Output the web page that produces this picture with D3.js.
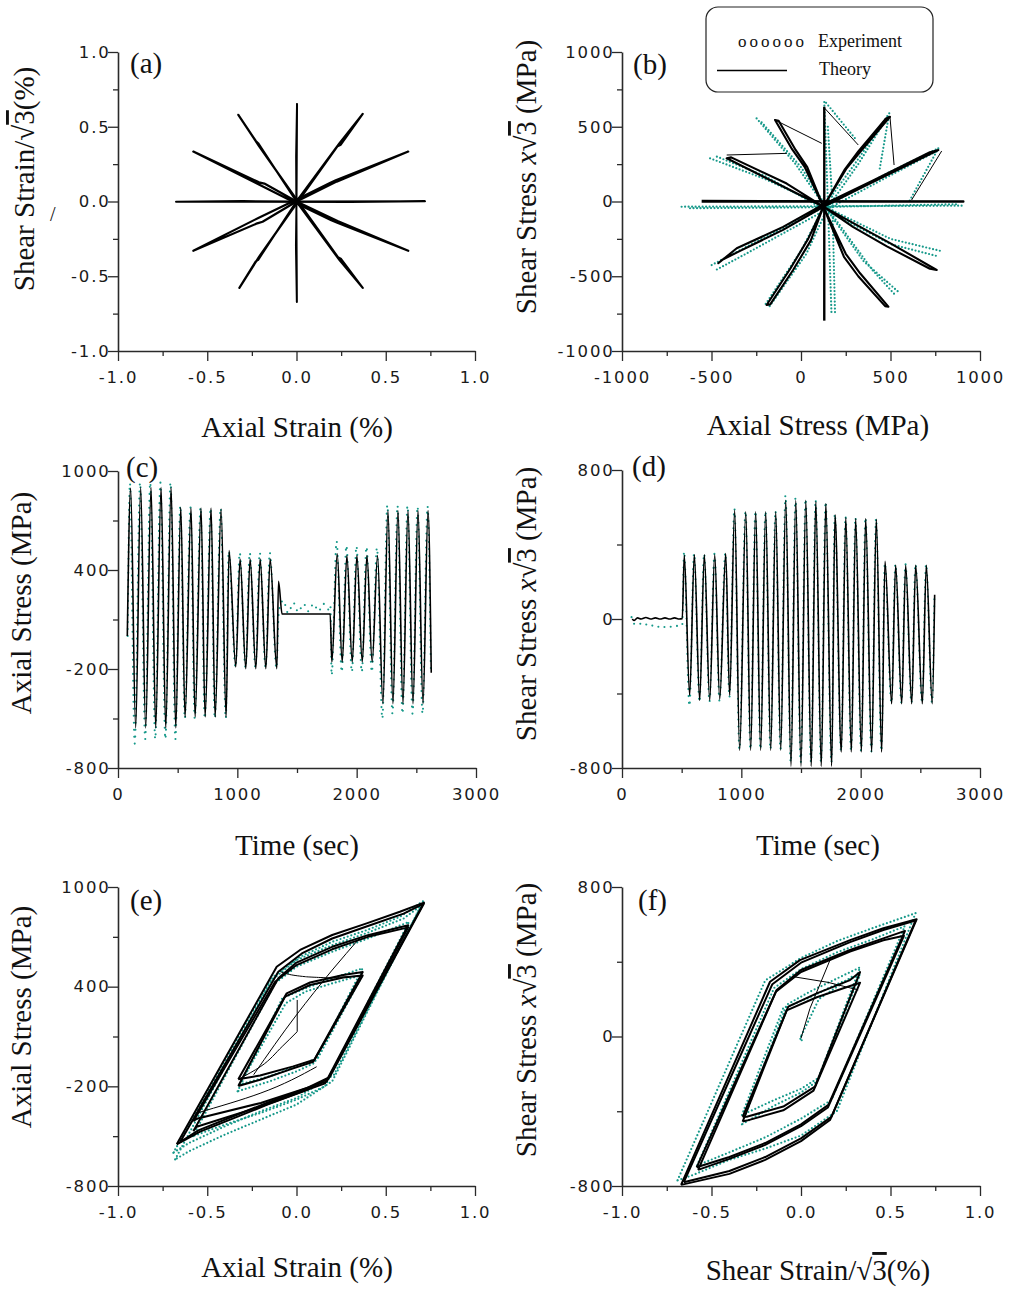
<!DOCTYPE html>
<html><head><meta charset="utf-8">
<script src="https://cdn.jsdelivr.net/npm/d3@7"></script>
<style>body{margin:0;background:#fff}svg{display:block}</style>
</head><body>
<script>
// ---------------- DATA ----------------
// (a) strain path: axial strain (%) vs shear strain/sqrt3 (%)
const aHoriz = [[0,0],[0.72,0.002],[0.3,-0.003],[-0.675,-0.002],[-0.3,0.003],[0,0]];
const aVert  = [[0,0],[0.003,0.653],[-0.002,0.3],[0.002,-0.672],[-0.003,-0.3],[0,0]];
const aSpokeB = [[0,0],[0.225,0.133],[0.626,0.334],[0.22,0.142],[0.19,0.125],[-0.005,0.01],[-0.214,-0.11],[-0.578,-0.33],[-0.22,-0.146],[-0.19,-0.135],[0,0]];
const aSpokeF = [[0,0],[0.23,-0.13],[0.626,-0.33],[0.225,-0.14],[0.195,-0.126],[-0.005,-0.01],[-0.205,0.11],[-0.578,0.334],[-0.21,0.128],[-0.18,0.12],[0,0]];
const aSpokeC = [[0,0],[0.241,0.39],[0.371,0.586],[0.248,0.38],[0.23,0.37],[0.008,0],[-0.21,-0.37],[-0.32,-0.578],[-0.228,-0.4],[-0.215,-0.39],[0,0]];
const aSpokeE = [[0,0],[0.241,-0.392],[0.371,-0.578],[0.25,-0.385],[0.232,-0.372],[0.008,0],[-0.21,0.37],[-0.326,0.58],[-0.228,0.405],[-0.215,0.39],[0,0]];

// (b) stress path: axial stress vs shear stress*sqrt3 (MPa)
const bTheoryA = [[-555,0],[907,0],[-555,3]];
const bTheoryD = [[130,634],[130,-797]];
const bTheoryB = [[125,-35],[350,100],[767,344],[720,330],[400,140],[125,-20],[-100,-170],[-359,-313],[-462,-413],[-440,-390],[-340,-330],[-100,-190],[125,-35]];
const bTheoryC = [[125,-35],[255,222],[330,330],[497,567],[475,555],[320,335],[245,215],[125,-35],[40,-250],[-60,-450],[-192,-692],[-172,-688],[-45,-460],[55,-260],[125,-35]];
const bTheoryE = [[125,-35],[20,232],[-50,350],[-145,545],[-125,540],[-30,345],[35,230],[125,-35],[250,-350],[330,-480],[488,-703],[470,-700],[320,-500],[240,-370],[125,-35]];
const bTheoryF = [[125,-35],[-100,100],[-415,289],[-390,295],[-80,120],[125,-35],[300,-150],[500,-280],[758,-458],[720,-450],[480,-300],[290,-170],[125,-35]];
const bTheoryLinks = [[[-145,545],[116,389]],[[133,623],[320,378]],[[497,567],[520,244]],[[786,338],[618,10]],[[-415,311],[-80,322]]];
const bExp = [
  [[-667,-35],[0,-32],[907,-28]],
  [[-620,-45],[0,-40],[880,-18]],
  [[130,665],[150,0],[170,-740]],
  [[150,500],[175,0],[190,-740]],
  [[-499,-425],[-300,-300],[125,-40],[500,200],[767,355]],
  [[-470,-455],[-300,-345],[125,-65],[500,175],[755,335]],
  [[-508,289],[-200,150],[125,-30],[500,-250],[777,-330]],
  [[-470,300],[-200,170],[125,-50],[500,-285],[760,-365]],
  [[-197,-685],[0,-330],[130,-30],[300,250],[493,590]],
  [[-175,-700],[30,-350],[150,-40],[320,250],[480,560]],
  [[-248,556],[-30,250],[130,-30],[350,-400],[553,-614]],
  [[-220,530],[0,230],[150,-50],[400,-460],[530,-630]],
  [[767,355],[606,3]],[[140,660],[310,410]],[[493,590],[440,220]]
];

// (c) time (s) vs axial stress (MPa)
const cTheory = [[78,0],[106,895],[148,-557],[190,900],[232,-557],[277,900],[316,-557],[361,900],[400,-557],[445,900],[484,-557],[526,780],[562,-491],[612,775],[646,-491],[696,775],[730,-491],[780,775],[814,-491],[864,770],[906,-491],[931,518],[987,-188],[1023,467],[1071,-198],[1107,467],[1155,-198],[1191,467],[1239,-198],[1275,467],[1331,-198],[1345,332],[1375,133],[1778,133],[1792,-158],[1837,498],[1879,-158],[1918,488],[1963,-158],[2002,488],[2047,-158],[2086,488],[2130,-158],[2175,488],[2220,-410],[2262,760],[2304,-410],[2346,760],[2388,-410],[2430,760],[2472,-410],[2514,760],[2556,-410],[2598,760],[2625,-223]];
const cExp = [[81,0],[100,925],[140,-652],[185,930],[228,-625],[270,930],[312,-625],[355,930],[397,-625],[440,930],[481,-625],[522,790],[560,-500],[607,780],[643,-500],[692,780],[727,-500],[776,775],[811,-500],[860,775],[903,-500],[928,514],[985,-190],[1020,505],[1069,-195],[1104,505],[1152,-195],[1188,505],[1237,-195],[1272,505],[1328,-195],[1348,150],[1385,215],[1425,140],[1471,200],[1510,145],[1555,195],[1595,150],[1639,195],[1680,150],[1722,195],[1765,160],[1780,185],[1790,-238],[1832,574],[1875,-218],[1914,548],[1960,-218],[1998,545],[2043,-218],[2082,540],[2127,-218],[2170,535],[2215,-501],[2257,794],[2300,-471],[2342,790],[2384,-471],[2426,790],[2468,-471],[2510,785],[2552,-471],[2594,785],[2622,-220]];

// (d) time (s) vs shear stress*sqrt3 (MPa)
const dTheory = [[86,0],[100,-8],[130,6],[160,0],[200,8],[240,0],[280,6],[320,0],[360,6],[400,0],[440,6],[480,0],[505,2],[522,342],[567,-410],[606,345],[651,-437],[690,345],[735,-437],[777,345],[819,-430],[869,351],[902,-410],[944,584],[986,-705],[1037,576],[1078,-705],[1120,576],[1162,-705],[1204,576],[1246,-705],[1288,576],[1330,-705],[1372,637],[1416,-790],[1456,637],[1500,-790],[1540,637],[1586,-790],[1624,630],[1670,-790],[1708,620],[1757,-790],[1785,560],[1838,-714],[1875,545],[1922,-714],[1958,539],[2006,-714],[2042,539],[2092,-714],[2131,535],[2176,-714],[2204,310],[2260,-455],[2293,288],[2344,-455],[2377,288],[2428,-455],[2461,288],[2517,-455],[2550,288],[2600,-455],[2620,130]];
const dExp = [[80,10],[95,-20],[120,-32],[150,-25],[180,-38],[210,-28],[240,-40],[270,-30],[300,-42],[330,-32],[360,-44],[390,-35],[420,-45],[450,-35],[480,-42],[505,-30],[520,363],[565,-467],[604,352],[649,-445],[688,350],[733,-445],[775,350],[817,-440],[866,355],[900,-420],[942,593],[984,-700],[1035,580],[1076,-700],[1118,580],[1160,-700],[1202,580],[1244,-700],[1286,580],[1328,-700],[1370,664],[1414,-770],[1454,650],[1498,-770],[1538,645],[1584,-770],[1622,640],[1668,-770],[1706,630],[1755,-770],[1783,565],[1836,-710],[1873,550],[1920,-710],[1956,545],[2004,-710],[2040,545],[2090,-710],[2129,540],[2174,-710],[2202,300],[2258,-450],[2291,295],[2342,-450],[2375,295],[2426,-450],[2459,295],[2515,-450],[2548,295],[2598,-450],[2618,140]];

// (e) axial strain (%) vs axial stress (MPa)
const eLoopA1 = [[-0.671,-549],[-0.111,520],[0.02,621],[0.2,711],[0.393,781],[0.579,851],[0.714,906],[0.178,-152],[0.057,-222],[-0.167,-312],[-0.354,-393],[-0.54,-473],[-0.671,-549]];
const eLoopA2 = [[-0.652,-535],[-0.102,490],[0.03,600],[0.2,690],[0.4,765],[0.6,840],[0.714,900],[0.185,-145],[0.06,-210],[-0.167,-300],[-0.354,-380],[-0.55,-465],[-0.652,-535]];
const eLoopB = [[-0.578,-470],[-0.102,450],[0.0,545],[0.2,640],[0.4,710],[0.626,770],[0.16,-182],[-0.204,-323],[-0.559,-443],[-0.578,-470]];
const eLoopF = [[-0.578,-410],[-0.12,430],[0.0,530],[0.2,625],[0.4,700],[0.626,757],[0.17,-170],[-0.2,-300],[-0.559,-395],[-0.578,-410]];
const eLoopC = [[-0.326,-198],[-0.064,340],[0.076,410],[0.262,455],[0.371,467],[0.094,-52],[-0.018,-92],[-0.204,-160],[-0.326,-198]];
const eLoopE = [[-0.326,-158],[-0.055,360],[0.076,425],[0.262,470],[0.371,488],[0.1,-40],[-0.018,-80],[-0.204,-135],[-0.326,-158]];
const eLinks = [[[0.004,320],[0.004,129]],[[0.004,129],[-0.08,40],[-0.2,-80],[-0.326,-158]],[[0.113,-82],[-0.204,-242],[-0.559,-361]],[[-0.24,-130],[0.0,230],[0.2,500],[0.36,700]],[[-0.09,490],[0.05,460],[0.2,450],[0.37,465]]];
const eExp = [
  [[-0.68,-640],[-0.13,460],[0.02,580],[0.2,670],[0.393,740],[0.579,820],[0.71,915],[0.2,-170],[0.0,-310],[-0.2,-400],[-0.4,-490],[-0.6,-590],[-0.68,-640]],
  [[-0.69,-600],[-0.15,430],[0.0,560],[0.2,650],[0.4,725],[0.6,810],[0.7,890],[0.21,-130],[0.0,-270],[-0.2,-350],[-0.4,-440],[-0.6,-540],[-0.69,-600]],
  [[-0.58,-500],[-0.12,420],[0.0,520],[0.2,610],[0.4,690],[0.63,790],[0.16,-200],[0.0,-280],[-0.2,-360],[-0.4,-430],[-0.58,-500]],
  [[-0.33,-230],[-0.08,330],[0.05,390],[0.2,450],[0.37,510],[0.1,-60],[0.0,-110],[-0.15,-170],[-0.33,-230]],
  [[-0.32,-190],[-0.06,300],[0.05,370],[0.2,420],[0.37,470],[0.12,-30],[0.0,-80],[-0.15,-140],[-0.32,-190]]
];

// (f) shear strain/sqrt3 (%) vs shear stress*sqrt3 (MPa)
const fLoopD1 = [[-0.67,-794],[-0.173,293],[-0.006,409],[0.274,516],[0.46,579],[0.646,627],[0.162,-447],[0.0,-560],[-0.2,-660],[-0.4,-735],[-0.67,-794]];
const fLoopD2 = [[-0.655,-780],[-0.16,280],[0.0,395],[0.274,505],[0.46,570],[0.64,620],[0.17,-430],[0.0,-545],[-0.2,-645],[-0.4,-720],[-0.655,-780]];
const fLoopC = [[-0.583,-700],[-0.136,249],[0.0,356],[0.274,463],[0.46,525],[0.581,565],[0.153,-366],[0.0,-470],[-0.2,-570],[-0.4,-645],[-0.583,-700]];
const fLoopE = [[-0.575,-714],[-0.14,240],[0.0,345],[0.274,455],[0.46,515],[0.575,539],[0.15,-380],[0.0,-480],[-0.2,-580],[-0.4,-655],[-0.575,-714]];
const fLoopB = [[-0.326,-430],[-0.071,160],[0.088,231],[0.274,302],[0.33,345],[0.078,-268],[-0.099,-375],[-0.303,-429],[-0.326,-430]];
const fLoopF = [[-0.326,-455],[-0.08,140],[0.088,210],[0.274,270],[0.33,288],[0.07,-290],[-0.099,-395],[-0.303,-450],[-0.326,-455]];
const fLinks = [[[0,-9],[0.05,150],[0.162,409]],[[-0.043,320],[0.15,290],[0.32,249]]];
const fExp = [
  [[-0.69,-770],[-0.2,300],[0.0,420],[0.2,510],[0.4,580],[0.64,660],[0.2,-400],[0.0,-530],[-0.2,-600],[-0.4,-660],[-0.6,-740],[-0.69,-770]],
  [[-0.58,-690],[-0.15,260],[0.0,360],[0.2,450],[0.4,520],[0.58,590],[0.17,-340],[0.0,-440],[-0.2,-540],[-0.4,-620],[-0.58,-690]],
  [[-0.33,-470],[-0.08,170],[0.05,240],[0.2,310],[0.33,370],[0.09,-240],[0.0,-300],[-0.15,-370],[-0.33,-470]],
  [[-0.33,-420],[-0.1,150],[0.05,210],[0.2,280],[0.33,330],[0.1,-220],[0.0,-280],[-0.15,-340],[-0.33,-420]],
  [[0,0],[0.005,-25],[-0.005,-10],[0.1,200],[0.3,330]]
];

// ticks
const strainMajor = [-1,-0.5,0,0.5,1], strainMinor = [-0.75,-0.25,0.25,0.75];
const stressMajor = [-1000,-500,0,500,1000], stressMinor = [-750,-250,250,750];
const timeMajor = [0,1000,2000,3000], timeMinor = [500,1500,2500];
const axialMajor = [-800,-200,400,1000], axialMinor = [-500,100,700];
const shearMajor = [-800,0,800], shearMinor = [-400,400];

// ---------------- DRAW ----------------
const TEAL = "#16998a";
const svg = d3.select("body").append("svg").attr("width",1010).attr("height",1289);

function panel(p){
  const x = d3.scaleLinear().domain(p.xd).range([p.x0,p.x1]);
  const y = d3.scaleLinear().domain(p.yd).range([p.yb,p.yt]);
  const g = svg.append("g");
  const styleAxis = s => {
    s.select(".domain").attr("stroke","#2a2a2a").attr("stroke-width",1.6);
    s.selectAll(".tick line").attr("stroke","#2a2a2a").attr("stroke-width",1.3);
    s.selectAll("text").attr("font-family","DejaVu Sans, Verdana, sans-serif").attr("font-size",16.5).attr("letter-spacing","1.8px").attr("fill","#1a1a1a");
  };
  g.append("g").attr("transform",`translate(0,${p.yb})`)
    .call(d3.axisBottom(x).tickValues(p.xMinor).tickSize(5).tickSizeOuter(0).tickFormat(""))
    .call(s=>s.select(".domain").remove()).call(styleAxis);
  g.append("g").attr("transform",`translate(${p.x0},0)`)
    .call(d3.axisLeft(y).tickValues(p.yMinor).tickSize(5).tickSizeOuter(0).tickFormat(""))
    .call(s=>s.select(".domain").remove()).call(styleAxis);
  g.append("g").attr("transform",`translate(0,${p.yb})`)
    .call(d3.axisBottom(x).tickValues(p.xMajor).tickSize(10).tickSizeOuter(0).tickPadding(10.5).tickFormat(p.xf))
    .call(styleAxis);
  g.append("g").attr("transform",`translate(${p.x0},0)`)
    .call(d3.axisLeft(y).tickValues(p.yMajor).tickSize(10).tickSizeOuter(0).tickPadding(-2.5).tickFormat(p.yf))
    .call(styleAxis);
  return {g,x,y};
}
const serif = "Liberation Serif, Times New Roman, serif";
function label(txt,x,y,size){
  svg.append("text").attr("x",x).attr("y",y).attr("font-family",serif).attr("font-size",size||29).attr("fill","#111").text(txt);
}
function xTitle(parts,cx,by){
  const t = svg.append("text").attr("x",cx).attr("y",by).attr("text-anchor","middle").attr("font-family",serif).attr("font-size",29).attr("fill","#111");
  parts.forEach(pt=>{const s=t.append("tspan").text(pt.t); if(pt.i) s.attr("font-style","italic"); if(pt.o) s.attr("text-decoration","overline");});
}
function yTitle(parts,bx,cy){
  const t = svg.append("text").attr("transform",`translate(${bx},${cy}) rotate(-90)`).attr("text-anchor","middle").attr("font-family",serif).attr("font-size",29).attr("fill","#111");
  parts.forEach(pt=>{const s=t.append("tspan").text(pt.t); if(pt.i) s.attr("font-style","italic"); if(pt.o) s.attr("text-decoration","overline");});
}
const f1 = d=>d.toFixed(1).replace("\u2212","-");
const f0 = d=>String(d);

function drawLine(P,data,opts){
  const ln = d3.line().x(d=>P.x(d[0])).y(d=>P.y(d[1])).curve(opts.curve||d3.curveLinear);
  const path = P.g.append("path").attr("d",ln(data)).attr("fill","none");
  if(opts.exp){
    path.attr("stroke",TEAL).attr("stroke-width",opts.w||2.6).attr("stroke-linecap","round").attr("stroke-dasharray",opts.dash||"0 4.5");
  } else {
    path.attr("stroke","#000").attr("stroke-width",opts.w||1.8).attr("stroke-linejoin","round");
  }
}

// panel a
const A = panel({x0:118,x1:475,yt:52,yb:351,xd:[-1,1],yd:[-1,1],xMajor:strainMajor,xMinor:strainMinor,yMajor:strainMajor,yMinor:strainMinor,xf:f1,yf:f1});
[aHoriz,aVert].forEach(d=>drawLine(A,d,{w:2}));
[aSpokeB,aSpokeF,aSpokeC,aSpokeE].forEach(d=>drawLine(A,d,{w:2.2}));

// panel b
const B = panel({x0:622,x1:980,yt:52,yb:351,xd:[-1000,1000],yd:[-1000,1000],xMajor:stressMajor,xMinor:stressMinor,yMajor:stressMajor,yMinor:stressMinor,xf:f0,yf:f0});
bExp.forEach(d=>drawLine(B,d,{exp:true,w:2.2,dash:"0 3.5"}));
[bTheoryA,bTheoryD].forEach(d=>drawLine(B,d,{w:2.4}));
[bTheoryB,bTheoryC,bTheoryE,bTheoryF].forEach(d=>drawLine(B,d,{w:2.1}));
bTheoryLinks.forEach(d=>drawLine(B,d,{w:1}));

// panel c
const C = panel({x0:118,x1:476,yt:471,yb:768,xd:[0,3000],yd:[-800,1000],xMajor:timeMajor,xMinor:timeMinor,yMajor:axialMajor,yMinor:axialMinor,xf:f0,yf:f0});
drawLine(C,cExp,{exp:true,w:2.1,dash:"0 7",curve:d3.curveMonotoneX});
drawLine(C,cTheory,{w:1.6,curve:d3.curveMonotoneX});

// panel d
const D = panel({x0:622,x1:980,yt:470,yb:768,xd:[0,3000],yd:[-800,800],xMajor:timeMajor,xMinor:timeMinor,yMajor:shearMajor,yMinor:shearMinor,xf:f0,yf:f0});
drawLine(D,dExp,{exp:true,w:2.1,dash:"0 7",curve:d3.curveMonotoneX});
drawLine(D,dTheory,{w:1.6,curve:d3.curveMonotoneX});

// panel e
const E = panel({x0:118,x1:475,yt:887,yb:1186,xd:[-1,1],yd:[-800,1000],xMajor:strainMajor,xMinor:strainMinor,yMajor:axialMajor,yMinor:axialMinor,xf:f1,yf:f0});
eExp.forEach(d=>drawLine(E,d,{exp:true,w:2.2,dash:"0 3.8"}));
[eLoopA1,eLoopA2,eLoopB,eLoopF,eLoopC,eLoopE].forEach(d=>drawLine(E,d,{w:2}));
eLinks.forEach(d=>drawLine(E,d,{w:1,curve:d3.curveMonotoneY}));

// panel f
const F = panel({x0:622,x1:980,yt:887,yb:1186,xd:[-1,1],yd:[-800,800],xMajor:strainMajor,xMinor:strainMinor,yMajor:shearMajor,yMinor:shearMinor,xf:f1,yf:f0});
fExp.forEach(d=>drawLine(F,d,{exp:true,w:2.2,dash:"0 3.8"}));
[fLoopD1,fLoopD2,fLoopC,fLoopE,fLoopB,fLoopF].forEach(d=>drawLine(F,d,{w:2}));
fLinks.forEach(d=>drawLine(F,d,{w:1}));

// titles
xTitle([{t:"Axial Strain (%)"}],297,437);
xTitle([{t:"Axial Stress (MPa)"}],818,435);
xTitle([{t:"Time (sec)"}],297,855);
xTitle([{t:"Time (sec)"}],818,855);
xTitle([{t:"Axial Strain (%)"}],297,1277);
xTitle([{t:"Shear Strain/\u221A"},{t:"3",o:true},{t:"(%)"}],818,1280);
yTitle([{t:"Shear Strain/\u221A"},{t:"3",o:true},{t:"(%)"}],34,179);
yTitle([{t:"Shear Stress "},{t:"x",i:true},{t:"\u221A"},{t:"3",o:true},{t:" (MPa)"}],536,177);
yTitle([{t:"Axial Stress (MPa)"}],31,603);
yTitle([{t:"Shear Stress "},{t:"x",i:true},{t:"\u221A"},{t:"3",o:true},{t:" (MPa)"}],536,604);
yTitle([{t:"Axial Stress (MPa)"}],31,1017);
yTitle([{t:"Shear Stress "},{t:"x",i:true},{t:"\u221A"},{t:"3",o:true},{t:" (MPa)"}],536,1020);
svg.append("text").attr("x",50).attr("y",221).attr("font-family",serif).attr("font-size",20).attr("fill","#111").text("/");

// panel labels
label("(a)",130,73); label("(b)",633,74); label("(c)",126,477);
label("(d)",632,476); label("(e)",130,910); label("(f)",638,910);

// legend
svg.append("rect").attr("x",706).attr("y",7).attr("width",227).attr("height",85).attr("rx",12).attr("fill","#fff").attr("stroke","#222").attr("stroke-width",1.2);
svg.append("text").attr("x",738).attr("y",47).attr("font-family",serif).attr("font-size",17).attr("textLength",66).attr("fill","#111").text("o o o o o o");
svg.append("text").attr("x",818).attr("y",47).attr("font-family",serif).attr("font-size",18).attr("fill","#111").text("Experiment");
svg.append("line").attr("x1",717).attr("x2",787).attr("y1",70.5).attr("y2",70.5).attr("stroke","#000").attr("stroke-width",1.3);
svg.append("text").attr("x",819).attr("y",75).attr("font-family",serif).attr("font-size",18).attr("fill","#111").text("Theory");
</script>
</body></html>
